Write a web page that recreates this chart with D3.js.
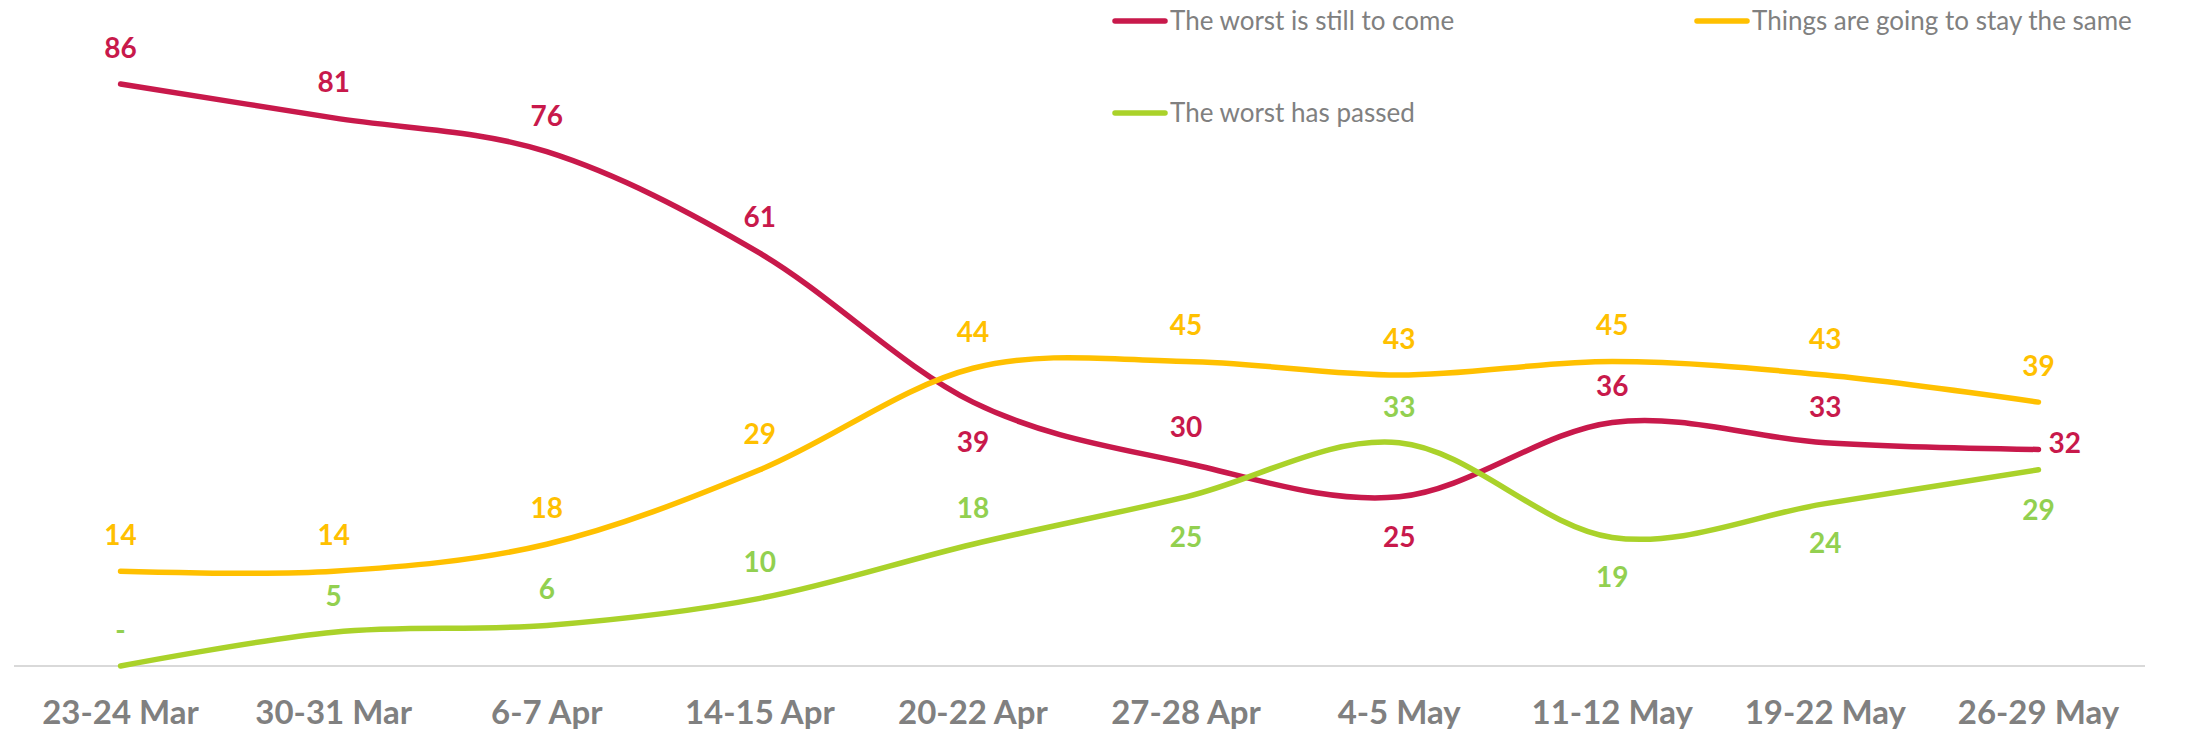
<!DOCTYPE html>
<html>
<head>
<meta charset="utf-8">
<script src="https://cdn.jsdelivr.net/npm/d3@7"></script>
<style>
  body { margin: 0; background: #fff; }
  svg { display: block; }
</style>
</head>
<body>
<svg width="2209" height="737"></svg>
<script>
// survey waves along the x axis
let waves = [
    "23-24 Mar", "30-31 Mar", "6-7 Apr", "14-15 Apr", "20-22 Apr",
    "27-28 Apr", "4-5 May", "11-12 May", "19-22 May", "26-29 May"
]

let worstToCome = [86, 81, 76, 61, 39, 30, 25, 36, 33, 32]
let staySame = [14, 14, 18, 29, 44, 45, 43, 45, 43, 39]
let worstPassed = [0, 5, 6, 10, 18, 25, 33, 19, 24, 29]

// where each data label sits relative to its point
let redPlace = ["up", "up", "up", "up", "down", "up", "down", "up", "up", "right"]
let yellowPlace = ["up", "up", "up", "up", "up", "up", "up", "up", "up", "up"]
let greenPlace = ["up", "up", "up", "up", "up", "down", "up", "down", "down", "down"]

const series = [
    { name: "The worst is still to come", values: worstToCome, place: redPlace, line: "#c8194b", label: "#c8194b" },
    { name: "Things are going to stay the same", values: staySame, place: yellowPlace, line: "#ffc000", label: "#ffc000" },
    { name: "The worst has passed", values: worstPassed, place: greenPlace, line: "#aad22a", label: "#92d050" }
]

const svg = d3.select("svg")

const x = d3.scalePoint()
    .domain(waves)
    .range([14, 2145])
    .padding(0.5)

const y = d3.scaleLinear()
    .domain([0, 90])
    .range([666, 57])

// axis baseline
svg.append("line")
    .attr("x1", 14)
    .attr("x2", 2145)
    .attr("y1", y(0))
    .attr("y2", y(0))
    .attr("stroke", "#d9d9d9")
    .attr("stroke-width", 2)

// category labels
svg.append("g")
    .selectAll("text")
    .data(waves)
    .enter()
    .append("text")
    .attr("x", d => x(d))
    .attr("y", 724)
    .attr("text-anchor", "middle")
    .attr("font-family", "Lato, sans-serif")
    .attr("font-weight", "bold")
    .attr("font-size", 33)
    .attr("fill", "#808080")
    .text(d => d)

const line = d3.line()
    .x((d, i) => x(waves[i]))
    .y(d => y(d))
    .curve(d3.curveCatmullRom.alpha(0))

const groups = svg.selectAll("g.series")
    .data(series)
    .enter()
    .append("g")
    .attr("class", "series")

groups.append("path")
    .attr("d", d => line(d.values))
    .attr("fill", "none")
    .attr("stroke", d => d.line)
    .attr("stroke-width", 5.5)
    .attr("stroke-linecap", "round")

groups.each(function (s) {
    d3.select(this)
        .selectAll("text")
        .data(s.values)
        .enter()
        .append("text")
        .attr("x", (d, i) => {
            let px = x(waves[i])
            return s.place[i] == "right" ? px + 10 : px
        })
        .attr("y", (d, i) => {
            let py = y(d)
            if (s.place[i] == "up") return py - 36
            if (s.place[i] == "down") return py + 40
            return py - 6
        })
        .attr("dy", "0.35em")
        .attr("text-anchor", (d, i) => s.place[i] == "right" ? "start" : "middle")
        .attr("font-family", "Lato, sans-serif")
        .attr("font-weight", "bold")
        .attr("font-size", 28)
        .attr("fill", s.label)
        .text(d => d == 0 ? "-" : d)
})

// legend
const legendPos = [[1113, 21], [1695, 21], [1113, 113]]

const legend = svg.selectAll("g.legend")
    .data(series)
    .enter()
    .append("g")
    .attr("class", "legend")
    .attr("transform", (d, i) => "translate(" + legendPos[i][0] + "," + legendPos[i][1] + ")")

legend.append("line")
    .attr("x1", 2)
    .attr("x2", 52)
    .attr("stroke", d => d.line)
    .attr("stroke-width", 5.5)
    .attr("stroke-linecap", "round")

legend.append("text")
    .attr("x", 57)
    .attr("dy", "0.35em")
    .attr("font-family", "Lato, sans-serif")
    .attr("font-size", 26)
    .attr("fill", "#808080")
    .text(d => d.name)
</script>
</body>
</html>
